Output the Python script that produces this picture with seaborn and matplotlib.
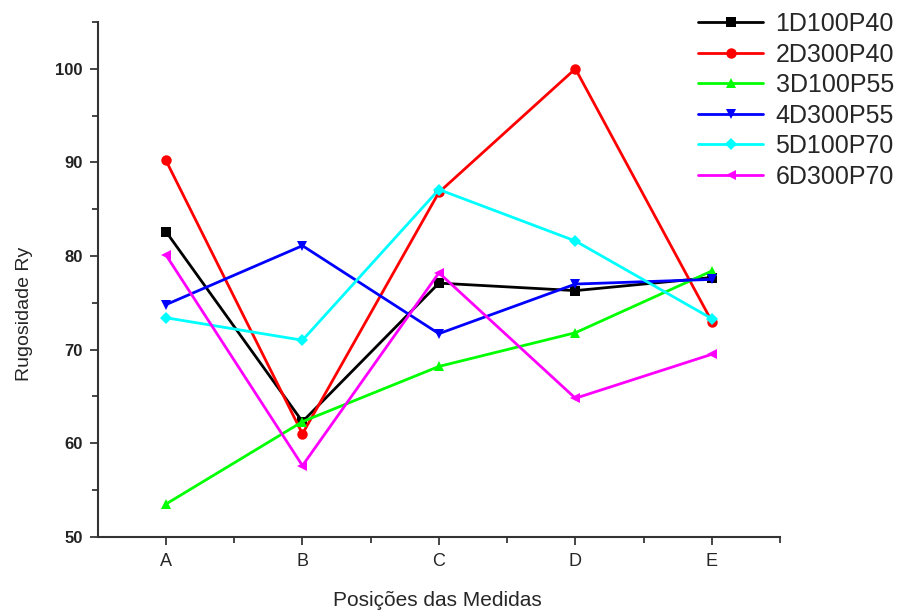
import seaborn as sns
import matplotlib.pyplot as plt
import pandas as pd

positions = ['A', 'B', 'C', 'D', 'E']
s1 = [82.6, 62.3, 77.1, 76.3, 77.7]
s2 = [90.2, 61.0, 86.8, 100.0, 73.0]
s3 = [53.5, 62.3, 68.2, 71.8, 78.4]
s4 = [74.8, 81.1, 71.7, 77.0, 77.5]
s5 = [73.4, 71.0, 87.1, 81.6, 73.3]
s6 = [80.1, 57.6, 78.2, 64.8, 69.5]
names = ['1D100P40', '2D300P40', '3D100P55', '4D300P55', '5D100P70', '6D300P70']
colors = ['#000000', '#ff0000', '#00ff00', '#0000ff', '#00ffff', '#ff00ff']
markers = ['s', 'o', '^', 'v', 'D', '<']

sns.set_style('ticks')
plt.rcParams['font.family'] = ['Liberation Sans', 'DejaVu Sans']

fig = plt.figure(figsize=(9.05, 6.10), dpi=100)
ax = fig.add_axes([0.108, 0.120, 0.754, 0.844])

xpos = list(range(1, len(positions) + 1))
for name, vals, c, m in zip(names, [s1, s2, s3, s4, s5, s6], colors, markers):
    df = pd.DataFrame({'x': xpos, 'y': vals})
    sns.lineplot(data=df, x='x', y='y', ax=ax, color=c, marker=m,
                 markersize=7.5 if m != 'D' else 6.5, markeredgewidth=0,
                 linewidth=2, label=name)

ax.set_xlim(0.5, 5.5)
ax.set_ylim(50, 105)
ax.set_xticks(xpos)
ax.set_xticklabels(positions)
ax.set_xticks([1.5, 2.5, 3.5, 4.5, 5.5], minor=True)
ax.set_yticks([50, 60, 70, 80, 90, 100])
ax.set_yticks([55, 65, 75, 85, 95, 105], minor=True)
ax.tick_params(axis='both', which='major', length=6, width=1.2)
ax.tick_params(axis='both', which='minor', length=4, width=1.2)
ax.tick_params(axis='x', labelsize=13, pad=6)
ax.tick_params(axis='y', labelsize=12, labelcolor='#222222', pad=5)
for lab in ax.get_yticklabels():
    lab.set_fontweight('bold')
ax.set_xlabel('Posições das Medidas', fontsize=15)
ax.set_ylabel('Rugosidade Ry', fontsize=14)
ax.xaxis.set_label_coords(0.497, -0.105)
ax.yaxis.set_label_coords(-0.095, 0.433)
sns.despine(ax=ax)
for sp in ['left', 'bottom']:
    ax.spines[sp].set_linewidth(1.5)
    ax.spines[sp].set_color('#333333')

fig.legend(loc='upper left', bbox_to_anchor=(698 / 905, 0.98), frameon=False,
           fontsize=18, handlelength=2.6, handletextpad=0.5, labelspacing=0.26,
           borderpad=0, borderaxespad=0)
ax.get_legend().remove()

fig.savefig('out.png', dpi=100)
